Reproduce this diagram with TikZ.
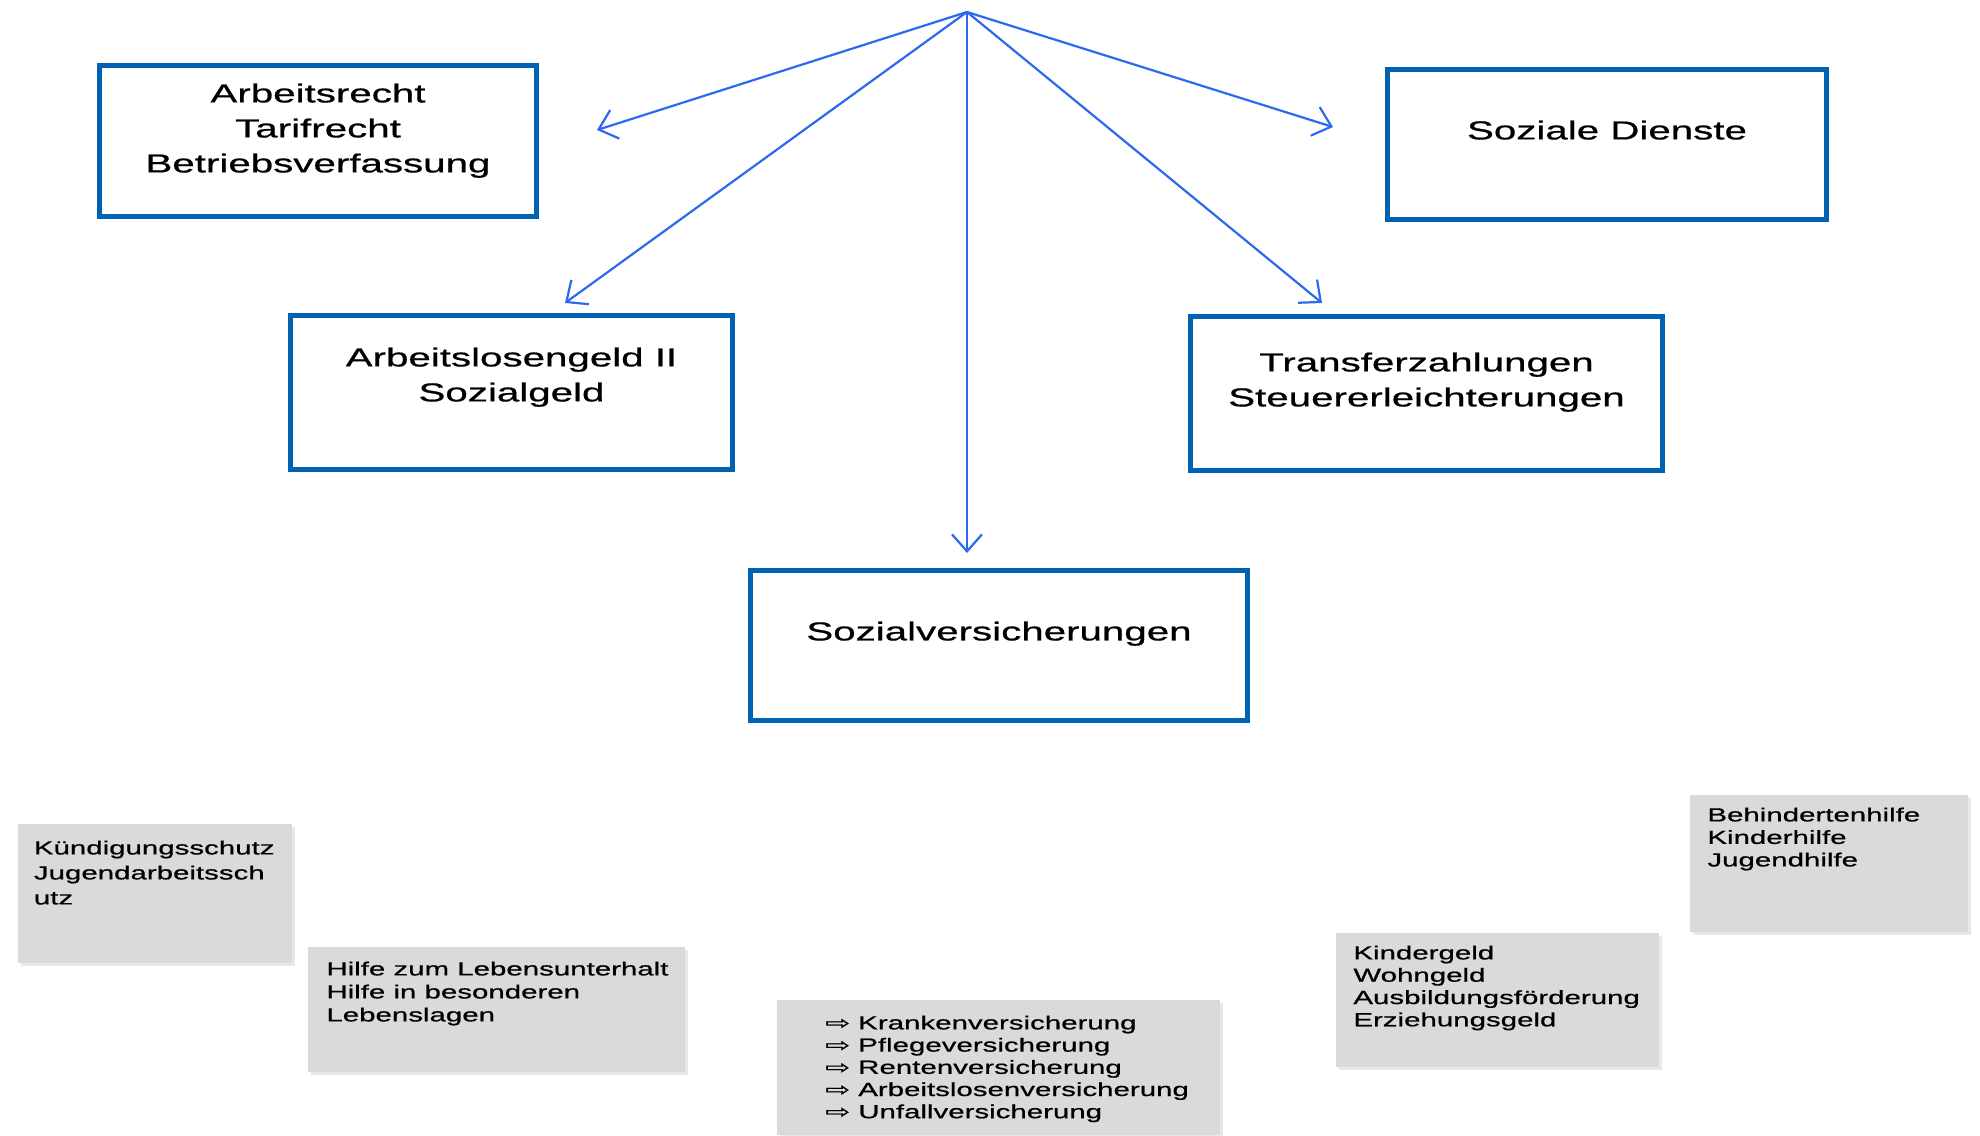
\documentclass[tikz,border=0pt]{standalone}
\usepackage{fontspec}
\setmainfont{Liberation Sans}
\newfontfamily\widesans{Liberation Sans}[FakeStretch=1.55,FakeBold=0.7]
\newfontfamily\widesym{DejaVu Sans}[FakeStretch=1.55,FakeBold=0.7]
\usetikzlibrary{arrows.meta,shadows}
\definecolor{arrowblue}{RGB}{45,105,240}
\definecolor{boxblue}{RGB}{0,98,178}
\definecolor{greyfill}{RGB}{218,218,218}
\tikzset{
  bluebox/.style={draw=boxblue, line width=2.5pt, fill=white, inner sep=0pt, rectangle},
  bigtext/.style={anchor=north, inner sep=0pt, align=center, text=black,
    font={\widesans\fontsize{13}{17.5}\selectfont}},
  greybox/.style={fill=greyfill, inner sep=0pt, anchor=north west, rectangle,
    drop shadow={shadow xshift=1.5pt, shadow yshift=-1.5pt, opacity=0.18}},
  smalltext/.style={anchor=north west, inner sep=0pt, align=left, text=black},
  conn/.style={draw=arrowblue, line width=1.1pt, -{Straight Barb[length=8.5pt,width=15pt,line width=1.1pt]}},
}
\newcommand{\topstrut}[1]{\rule{0pt}{#1}}
\begin{document}
\begin{tikzpicture}[x=0.5pt, y=-0.5pt]
\fill[white] (0,0) rectangle (1980,1135);
\useasboundingbox (0,0) rectangle (1980,1135);

% blue boxes
\node[bluebox, minimum width=218.5pt, minimum height=75.5pt] (b1) at (318,141) {};
\node[bluebox, minimum width=219.5pt, minimum height=75pt] (b2) at (1607,144.5) {};
\node[bluebox, minimum width=221pt, minimum height=77pt] (b3) at (511.5,392.5) {};
\node[bluebox, minimum width=236pt, minimum height=77pt] (b4) at (1426.5,393.5) {};
\node[bluebox, minimum width=248.5pt, minimum height=75pt] (b5) at (999,645.5) {};

\node[bigtext] (t1) at (318,82) {\topstrut{10pt}Arbeitsrecht\\Tarifrecht\\Betriebsverfassung};
\node[bigtext] (t2) at (1607,119) {\topstrut{10pt}Soziale Dienste};
\node[bigtext] (t3) at (511.5,346) {\topstrut{10pt}Arbeitslosengeld II\\Sozialgeld};
\node[bigtext] (t4) at (1426.5,351) {\topstrut{10pt}Transferzahlungen\\Steuererleichterungen};
\node[bigtext] (t5) at (999,620) {\topstrut{10pt}Sozialversicherungen};

% arrows
\coordinate (apex) at (967,12);
\coordinate (e1) at (597,130);
\coordinate (e2) at (565,303);
\coordinate (e3) at (967,553);
\coordinate (e4) at (1322,303);
\coordinate (e5) at (1333,127);
\draw[conn] (apex) -- (e1);
\draw[conn] (apex) -- (e2);
\draw[conn] (apex) -- (e3);
\draw[conn] (apex) -- (e4);
\draw[conn] (apex) -- (e5);

% grey boxes
\node[greybox, minimum width=137pt, minimum height=69.5pt] (g1) at (18,824) {};
\node[greybox, minimum width=188.5pt, minimum height=62.5pt] (g2) at (308,947) {};
\node[greybox, minimum width=221.5pt, minimum height=67.5pt] (g3) at (777,1000) {};
\node[greybox, minimum width=161.5pt, minimum height=67pt] (g4) at (1336,933) {};
\node[greybox, minimum width=139pt, minimum height=68.5pt] (g5) at (1690,795) {};

\node[smalltext, font={\widesans\fontsize{9.5}{12.5}\selectfont}] (s1) at (33.5,839)
  {\topstrut{7.5pt}Kündigungsschutz\\Jugendarbeitssch\\utz};
\node[smalltext, font={\widesans\fontsize{9.5}{11.5}\selectfont}] (s2) at (326,960)
  {\topstrut{7.5pt}Hilfe zum Lebensunterhalt\\Hilfe in besonderen\\Lebenslagen};
\node[smalltext, font={\widesans\fontsize{9.5}{11.1}\selectfont}] (s3) at (825,1014)
  {\topstrut{7.5pt}{\widesym ⇨} Krankenversicherung\\{\widesym ⇨} Pflegeversicherung\\{\widesym ⇨} Rentenversicherung\\{\widesym ⇨} Arbeitslosenversicherung\\{\widesym ⇨} Unfallversicherung};
\node[smalltext, font={\widesans\fontsize{9.5}{11.15}\selectfont}] (s4) at (1353,944)
  {\topstrut{7.5pt}Kindergeld\\Wohngeld\\Ausbildungsförderung\\Erziehungsgeld};
\node[smalltext, font={\widesans\fontsize{9.5}{11.25}\selectfont}] (s5) at (1707,806)
  {\topstrut{7.5pt}Behindertenhilfe\\Kinderhilfe\\Jugendhilfe};
\end{tikzpicture}
\end{document}
